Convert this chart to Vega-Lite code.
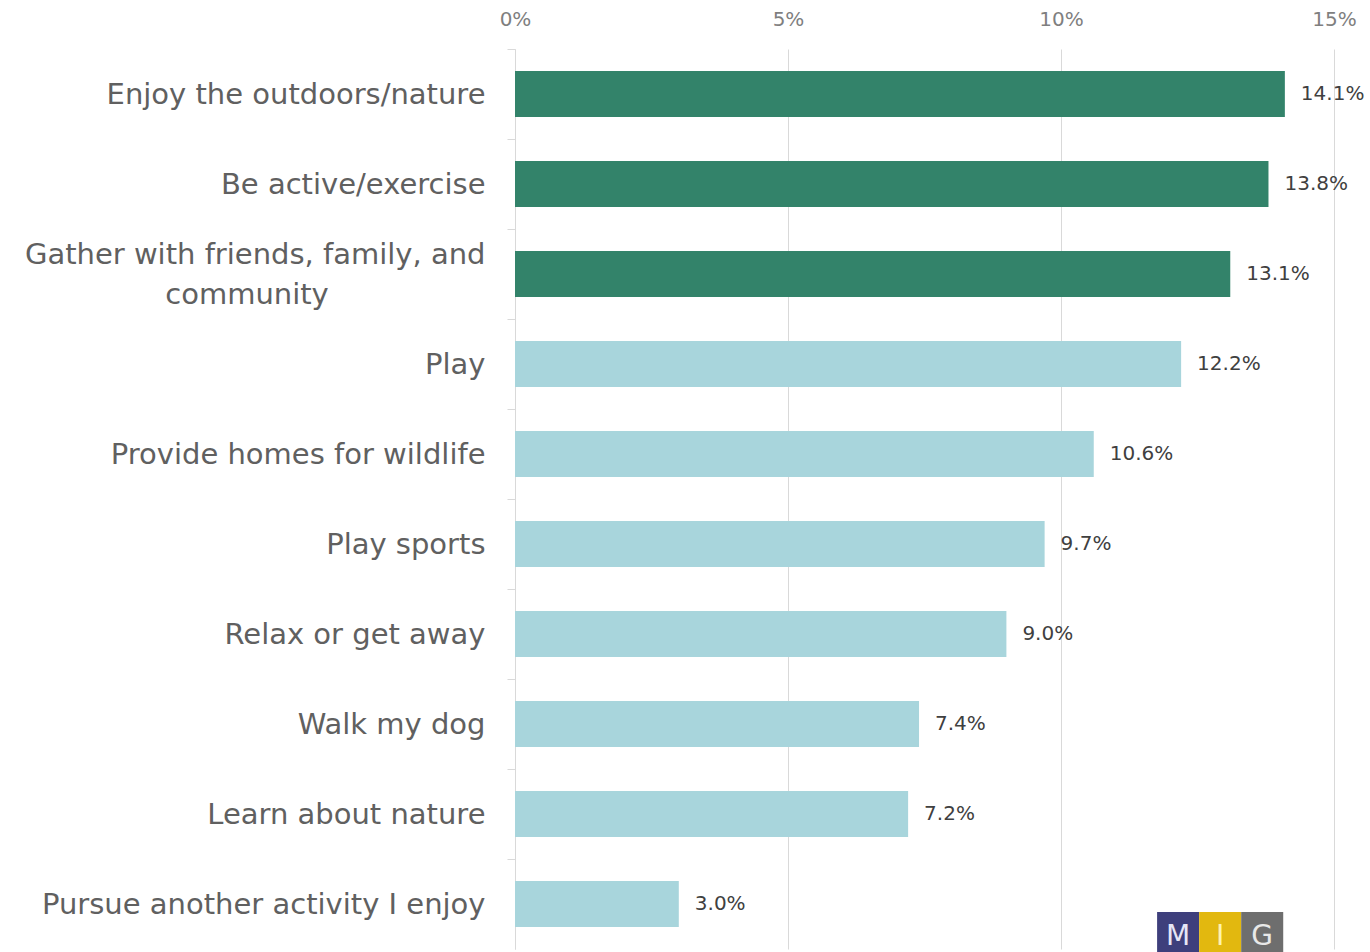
{
  "$schema": "https://vega.github.io/schema/vega-lite/v6.json",
  "autosize": {"type": "none"},
  "padding": {"left": 515, "top": 49, "right": 36, "bottom": 3},
  "width": 819,
  "height": 900,
  "background": "white",
  "config": {"view": {"stroke": null}, "font": "DejaVu Sans"},
  "datasets": {
    "bars": [
      {"activity": "Enjoy the outdoors/nature", "share": 0.141, "group": "top"},
      {"activity": "Be active/exercise", "share": 0.138, "group": "top"},
      {"activity": "Gather with friends, family, and community", "share": 0.131, "group": "top"},
      {"activity": "Play", "share": 0.122, "group": "other"},
      {"activity": "Provide homes for wildlife", "share": 0.106, "group": "other"},
      {"activity": "Play sports", "share": 0.097, "group": "other"},
      {"activity": "Relax or get away", "share": 0.090, "group": "other"},
      {"activity": "Walk my dog", "share": 0.074, "group": "other"},
      {"activity": "Learn about nature", "share": 0.072, "group": "other"},
      {"activity": "Pursue another activity I enjoy", "share": 0.030, "group": "other"}
    ],
    "logo": [
      {"letter": "M", "x0": 0.1176, "x1": 0.1253, "fill": "#3e3f7c", "ink": "#e6e6f5"},
      {"letter": "I", "x0": 0.1253, "x1": 0.1330, "fill": "#e2b80f", "ink": "#fff3b0"},
      {"letter": "G", "x0": 0.1330, "x1": 0.1407, "fill": "#6e6e6e", "ink": "#e8e8e8"}
    ]
  },
  "layer": [
    {
      "data": {"name": "bars"},
      "mark": {"type": "bar"},
      "encoding": {
        "y": {
          "field": "activity", "type": "nominal", "sort": null,
          "scale": {"paddingInner": 0.49, "paddingOuter": 0.245},
          "axis": {
            "title": null,
            "orient": "left",
            "domainColor": "#d9d9d9",
            "tickColor": "#d9d9d9",
            "tickSize": 8,
            "tickOffset": -45,
            "labelOffset": {"condition": {"test": "datum.value == 'Gather with friends, family, and community'", "value": 25}, "value": 45},
            "labelPadding": 22,
            "labelFontSize": 29,
            "labelColor": "#606060",
            "labelLineHeight": 40,
            "labelLimit": 600,
            "labelExpr": "datum.value == 'Gather with friends, family, and community' ? ['Gather with friends, family, and', 'community\u00a0\u00a0\u00a0\u00a0\u00a0\u00a0\u00a0\u00a0\u00a0\u00a0\u00a0\u00a0\u00a0\u00a0\u00a0\u00a0\u00a0\u200b'] : datum.value"
          }
        },
        "x": {
          "field": "share", "type": "quantitative",
          "scale": {"domain": [0, 0.15], "nice": false},
          "axis": {
            "title": null,
            "orient": "top",
            "values": [0, 0.05, 0.10, 0.15],
            "format": ".0%",
            "domain": false,
            "ticks": false,
            "grid": true,
            "gridColor": "#d9d9d9",
            "labelFlush": false,
            "labelPadding": 20,
            "labelFontSize": 20,
            "labelColor": "#7f7f7f"
          }
        },
        "color": {
          "field": "group", "type": "nominal", "legend": null,
          "scale": {"domain": ["top", "other"], "range": ["#33836a", "#a8d5dc"]}
        }
      }
    },
    {
      "data": {"name": "bars"},
      "mark": {"type": "text", "align": "left", "baseline": "middle", "dx": 16, "fontSize": 20, "color": "#404040"},
      "encoding": {
        "y": {"field": "activity", "type": "nominal", "sort": null},
        "x": {"field": "share", "type": "quantitative"},
        "text": {"field": "share", "type": "quantitative", "format": ".1%"}
      }
    },
    {
      "data": {"name": "logo"},
      "mark": {"type": "rect", "height": 40, "yOffset": 28},
      "encoding": {
        "y": {"datum": "Pursue another activity I enjoy", "type": "nominal"},
        "x": {"field": "x0", "type": "quantitative"},
        "x2": {"field": "x1"},
        "fill": {"field": "fill", "type": "nominal", "scale": null}
      }
    },
    {
      "data": {"name": "logo"},
      "mark": {"type": "text", "baseline": "middle", "align": "center", "fontSize": 28, "dx": 21, "yOffset": 33},
      "encoding": {
        "y": {"datum": "Pursue another activity I enjoy", "type": "nominal"},
        "x": {"field": "x0", "type": "quantitative"},
        "text": {"field": "letter"},
        "color": {"field": "ink", "type": "nominal", "scale": null}
      }
    }
  ]
}
